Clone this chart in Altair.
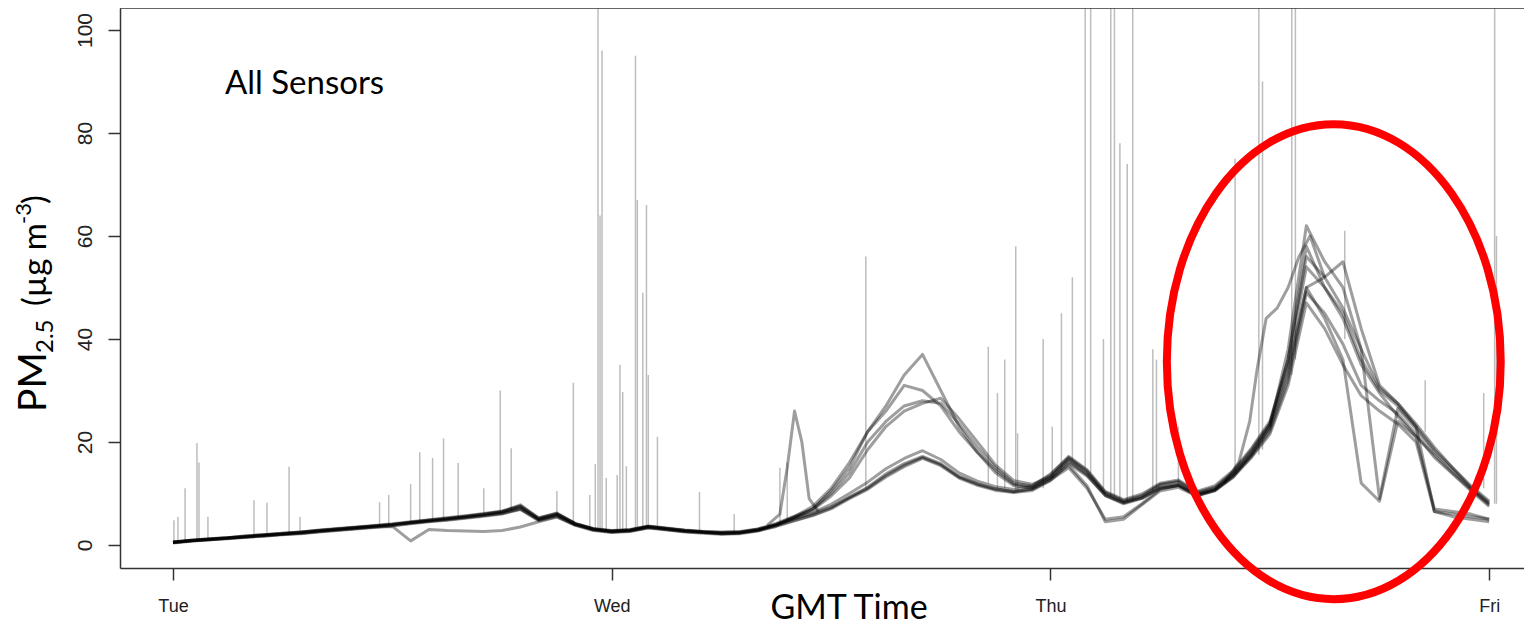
import altair as alt
import pandas as pd

# ---------------- data ----------------
hours = list(range(73))  # hours after Tue 00:00 GMT
day_ticks = [0, 24, 48, 72]
day_labels = ["Tue", "Wed", "Thu", "Fri"]
y_ticks = [0, 20, 40, 60, 80, 100]

sensor_1 = [0.6,0.9,1.2,1.4,1.8,2.0,2.3,2.5,2.9,3.2,3.5,3.8,4.1,4.5,4.9,5.3,5.7,6.1,6.6,7.6,5.3,6.1,4.2,3.2,2.8,
            3.0,3.7,3.3,2.9,2.6,2.5,2.6,3.1,4.0,5.3,6.3,7.9,10.0,12.2,14.8,16.8,18.3,16.6,14.0,12.4,11.3,10.8,11.4,
            13.6,17.2,14.6,10.4,8.8,9.9,12.0,12.6,10.4,11.5,14.5,18.8,24.0,36.0,56.0,52.0,46.0,38.0,30.5,27.5,23.5,19.0,15.0,11.5,8.5]
sensor_2 = [0.4,0.7,1.0,1.2,1.5,1.7,2.0,2.2,2.5,2.8,3.1,3.4,3.7,4.1,4.5,4.8,5.2,5.6,6.0,6.9,4.7,5.5,3.8,2.8,2.4,
            2.6,3.3,2.9,2.5,2.3,2.1,2.2,2.7,3.6,4.7,5.7,7.0,9.0,10.8,13.2,15.2,16.8,15.4,13.0,11.6,10.6,10.2,10.6,
            12.5,15.8,13.4,9.6,8.2,9.1,11.0,11.5,9.6,10.6,13.5,17.2,22.0,32.0,49.0,45.0,39.0,31.0,28.0,25.5,21.5,17.0,13.8,10.5,7.5]
sensor_3 = [0.5,0.8,1.1,1.3,1.6,1.9,2.2,2.4,2.8,3.1,3.4,3.7,4.0,4.4,4.8,5.1,5.5,5.9,6.4,7.4,5.1,6.0,4.1,3.1,2.7,
            2.9,3.6,3.2,2.8,2.6,2.4,2.5,3.0,3.9,5.1,6.1,7.4,9.2,11.0,13.5,15.5,17.0,15.6,13.2,11.8,10.8,10.4,10.8,
            12.6,15.0,11.0,5.0,5.5,8.0,10.8,11.6,9.8,10.8,13.8,17.6,22.5,33.0,50.0,44.0,36.0,12.0,8.5,24.0,21.0,17.5,14.0,10.8,7.8]
sensor_4 = [0.5,0.8,1.0,1.3,1.5,1.8,2.1,2.3,2.6,2.9,3.2,3.5,3.6,0.8,3.0,2.8,2.7,2.6,2.8,3.5,4.5,5.4,3.9,3.0,2.5,
            2.7,3.4,3.0,2.6,2.4,2.2,2.3,2.8,3.7,4.8,5.8,7.2,9.3,11.2,13.8,15.8,17.2,15.8,13.3,11.9,10.9,10.3,10.9,
            12.8,15.5,11.5,4.5,5.0,7.8,10.5,11.2,9.5,10.5,13.2,17.0,21.5,31.0,47.0,42.0,35.0,29.0,26.0,23.5,20.0,6.5,6.0,5.5,5.0]
sensor_5 = [0.6,0.9,1.2,1.4,1.7,2.0,2.2,2.5,2.8,3.1,3.4,3.7,4.0,4.4,4.8,5.2,5.6,6.0,6.5,7.8,5.2,6.2,4.2,3.1,2.7,
            2.9,3.6,3.2,2.8,2.5,2.4,2.5,3.1,4.2,5.6,7.0,10.0,14.0,20.0,24.0,27.0,28.0,27.5,23.5,19.0,15.0,12.0,11.5,
            13.8,17.0,14.4,10.2,8.6,9.6,11.8,12.4,10.2,11.2,14.2,18.5,23.5,36.0,58.0,50.0,45.0,36.0,30.0,27.0,23.0,18.5,15.0,11.2,8.2]
sensor_6 = [0.5,0.8,1.1,1.4,1.6,1.9,2.1,2.4,2.7,3.0,3.3,3.6,3.9,4.3,4.6,5.0,5.4,5.7,6.2,7.0,4.9,5.8,4.0,3.0,2.6,
            2.8,3.5,3.1,2.7,2.5,2.3,2.4,2.9,3.9,5.4,6.8,9.5,13.0,18.5,23.0,26.0,27.5,28.5,24.5,20.0,15.5,12.5,11.8,
            13.2,16.8,14.2,10.0,8.4,9.4,11.6,12.2,10.0,11.0,14.0,18.2,23.5,35.0,54.0,50.0,44.0,35.0,29.5,25.0,21.0,7.0,6.5,6.0,5.0]
sensor_7 = [0.6,0.9,1.1,1.4,1.7,2.0,2.3,2.5,2.8,3.1,3.4,3.7,4.0,4.3,4.7,5.1,5.5,5.9,6.4,7.5,5.0,6.0,4.1,3.1,2.7,
            2.9,3.6,3.2,2.8,2.5,2.3,2.4,2.9,4.0,5.5,7.5,11.0,16.0,22.0,26.0,31.0,30.0,27.0,22.0,18.0,14.0,11.5,11.0,
            13.2,16.5,13.8,9.8,8.2,9.2,11.2,11.8,9.8,10.8,13.5,17.8,23.0,38.0,62.0,55.0,50.0,38.0,9.0,26.5,22.5,18.0,14.5,11.0,8.0]
sensor_8 = [0.5,0.8,1.0,1.3,1.6,1.8,2.1,2.3,2.6,2.9,3.2,3.5,3.8,4.2,4.6,4.9,5.3,5.7,6.1,7.1,4.9,5.7,3.9,2.9,2.5,
            2.7,3.4,3.0,2.6,2.4,2.2,2.3,2.8,3.8,5.2,7.0,10.5,15.0,22.0,27.0,33.0,37.0,30.0,23.0,18.0,14.5,11.8,11.2,
            13.0,16.2,13.6,9.6,8.0,9.0,11.0,11.6,9.6,10.6,13.2,17.5,23.0,34.0,50.0,52.0,55.0,42.0,31.0,27.5,23.0,6.5,5.5,5.0,4.5]

# isolated single-sensor excursions
trace_a_hours = [32.5, 33.2, 33.6, 34.0, 34.4, 34.8, 35.3]
trace_a_vals = [3.8, 6.0, 15.0, 26.0, 20.0, 9.0, 6.5]
trace_b_hours = [57.5, 58.3, 58.9, 59.3, 59.8, 60.4, 61.0, 61.6, 62.2, 63.0]
trace_b_vals = [12.0, 16.0, 24.0, 34.0, 44.0, 46.0, 50.0, 56.0, 60.0, 52.0]

# one-sample outlier spikes (light grey)
spike_hours = [0.05,0.27,0.66,1.31,1.42,1.91,4.43,5.14,6.35,6.95,11.3,11.8,13.0,13.5,14.2,14.8,15.6,17.0,17.9,18.5,21.0,21.9,22.8,23.1,
               23.25,23.36,23.47,23.7,24.3,24.45,24.6,24.8,25.3,25.4,25.7,25.9,26.0,26.5,28.8,30.7,33.2,33.6,
               37.9,44.6,45.1,45.5,46.1,46.2,47.6,48.1,48.6,49.2,49.9,50.2,50.9,51.3,51.5,51.8,52.2,52.5,53.6,53.8,55.0,
               58.1,59.4,59.6,61.2,61.4,64.1,68.5,71.7,72.3,72.4]
spike_base = [0.5,0.6,0.7,0.9,0.9,1.1,1.7,1.9,2.2,2.4,3.7,3.8,4.3,4.5,4.7,4.9,5.2,5.8,6.2,6.7,5.8,4.2,3.2,3.0,
              2.9,2.8,2.8,2.7,2.6,2.7,2.7,2.8,3.0,3.1,3.3,3.4,3.5,3.3,2.6,2.4,4.0,4.5,
              11,12,11,11,10.5,10.5,11,13,14.5,16.5,15,14,11,9.5,9.5,9,8.5,8.5,10.5,11,12,
              14,17.5,18.5,33,36,40,22,11,8,8]
spike_top = [4.8,5.5,11,19.8,16,5.5,8.7,8.2,15.2,5.5,8.3,9.7,11.8,18,16.9,20.7,15.9,11,30,18.8,10.5,31.5,9.7,15.7,
             110,64,96,13,13.6,35,29.7,15.3,95,67,49,66,33,21,10.3,6,15,16,
             56,38.5,29.5,36,58,21.7,40,23,45,52,110,110,40,110,110,78,74,110,38,36,23,
             75,110,90,110,110,61,32,29.5,110,60]

# annotation ellipse (centre in data units)
ellipse_hour = [63.5]
ellipse_pm = [35.6]

# ---------------- tables ----------------
sensors = {"S1": sensor_1, "S2": sensor_2, "S3": sensor_3, "S4": sensor_4,
           "S5": sensor_5, "S6": sensor_6, "S7": sensor_7, "S8": sensor_8}
rows = []
for name, vals in sensors.items():
    for h, v in zip(hours, vals):
        rows.append({"sensor": name, "hour": h, "pm": v})
for h, v in zip(trace_a_hours, trace_a_vals):
    rows.append({"sensor": "TA", "hour": h, "pm": v})
for h, v in zip(trace_b_hours, trace_b_vals):
    rows.append({"sensor": "TB", "hour": h, "pm": v})
lines_df = pd.DataFrame(rows)

spikes_df = pd.DataFrame({"hour": spike_hours, "base": spike_base, "top": spike_top})
ellipse_df = pd.DataFrame({"hour": ellipse_hour, "pm": ellipse_pm})

W, H = 1404, 560
X_DOMAIN = [-2.9, -2.9 + W / 18.28]
Y_DOMAIN = [-4.47, 104.27]
xs = alt.Scale(domain=X_DOMAIN, nice=False, zero=False)
ys = alt.Scale(domain=Y_DOMAIN, nice=False, zero=False)

label_expr = " : ".join(f"datum.value == {t} ? '{l}'" for t, l in zip(day_ticks, day_labels)) + " : ''"

x_axis = alt.Axis(values=day_ticks, labelExpr=label_expr, title=None, grid=False,
                  domain=True, domainColor="#333333", domainWidth=1.5,
                  tickSize=12, tickWidth=1.5, tickColor="#333333", labelFont="Liberation Sans",
                  labelFontSize=18, labelColor="#222222", labelPadding=17, labelFlush=False)
y_axis = alt.Axis(values=y_ticks, title=None, grid=False,
                  domain=True, domainColor="#333333", domainWidth=1.5,
                  tickSize=12, tickWidth=1.5,
                  tickColor="#333333", labelFont="Liberation Sans", labelFontSize=21, labelColor="#222222",
                  labelAngle=270, labelAlign="center", labelBaseline="alphabetic", labelPadding=17,
                  labelFlush=False)

spikes = alt.Chart(spikes_df).mark_rule(color="#bdbdbd", strokeWidth=1.5, clip=True).encode(
    x=alt.X("hour:Q", scale=xs, axis=x_axis),
    y=alt.Y("base:Q", scale=ys, axis=y_axis),
    y2="top:Q",
)

lines = alt.Chart(lines_df).mark_line(color="black", opacity=0.38, strokeWidth=3, clip=True,
                                      strokeJoin="round").encode(
    x=alt.X("hour:Q", scale=xs),
    y=alt.Y("pm:Q", scale=ys),
    detail="sensor:N",
    order="hour:Q",
)

ellipse_path = "M -0.703 0 A 0.703 1 0 1 0 0.703 0 A 0.703 1 0 1 0 -0.703 0 Z"
ellipse = alt.Chart(ellipse_df).mark_point(shape=ellipse_path, size=475 * 475, filled=False,
                                           color="#ff0000", strokeWidth=8, opacity=1).encode(
    x=alt.X("hour:Q", scale=xs),
    y=alt.Y("pm:Q", scale=ys),
)

# top edge of the plot frame (R box)
frame_top = alt.Chart(pd.DataFrame({"k": [0]})).mark_rule(color="#333333", strokeWidth=1.5).encode(
    x=alt.value(0), x2=alt.value(W), y=alt.value(0)
)


def label(txt, x, y, size, align="left", angle=0, font="Lato"):
    return alt.Chart(pd.DataFrame({"t": [txt]})).mark_text(
        align=align, baseline="alphabetic", font=font, fontSize=size, color="black", angle=angle
    ).encode(x=alt.value(x), y=alt.value(y), text="t:N")


texts = [
    label("All Sensors", 105, 86, 33),
    label("GMT Time", 729, 611, 34, align="center"),
    label("PM", -74, 404, 39, angle=270),
    label("2.5", -67, 345, 24, angle=270),
    label("(µg m", -74, 298, 33, angle=270),
    label("-3", -89, 216, 22, angle=270),
    label(")", -74, 196, 33, angle=270),
]

chart = alt.layer(spikes, lines, ellipse, frame_top, *texts).properties(
    width=W, height=H,
    autosize=alt.AutoSizeParams(type="none"),
    padding={"left": 112, "top": 0, "right": 0, "bottom": 59},
    background="white",
).configure_view(stroke=None)

chart.save("out.html", embed_options={"renderer": "svg", "actions": False})
